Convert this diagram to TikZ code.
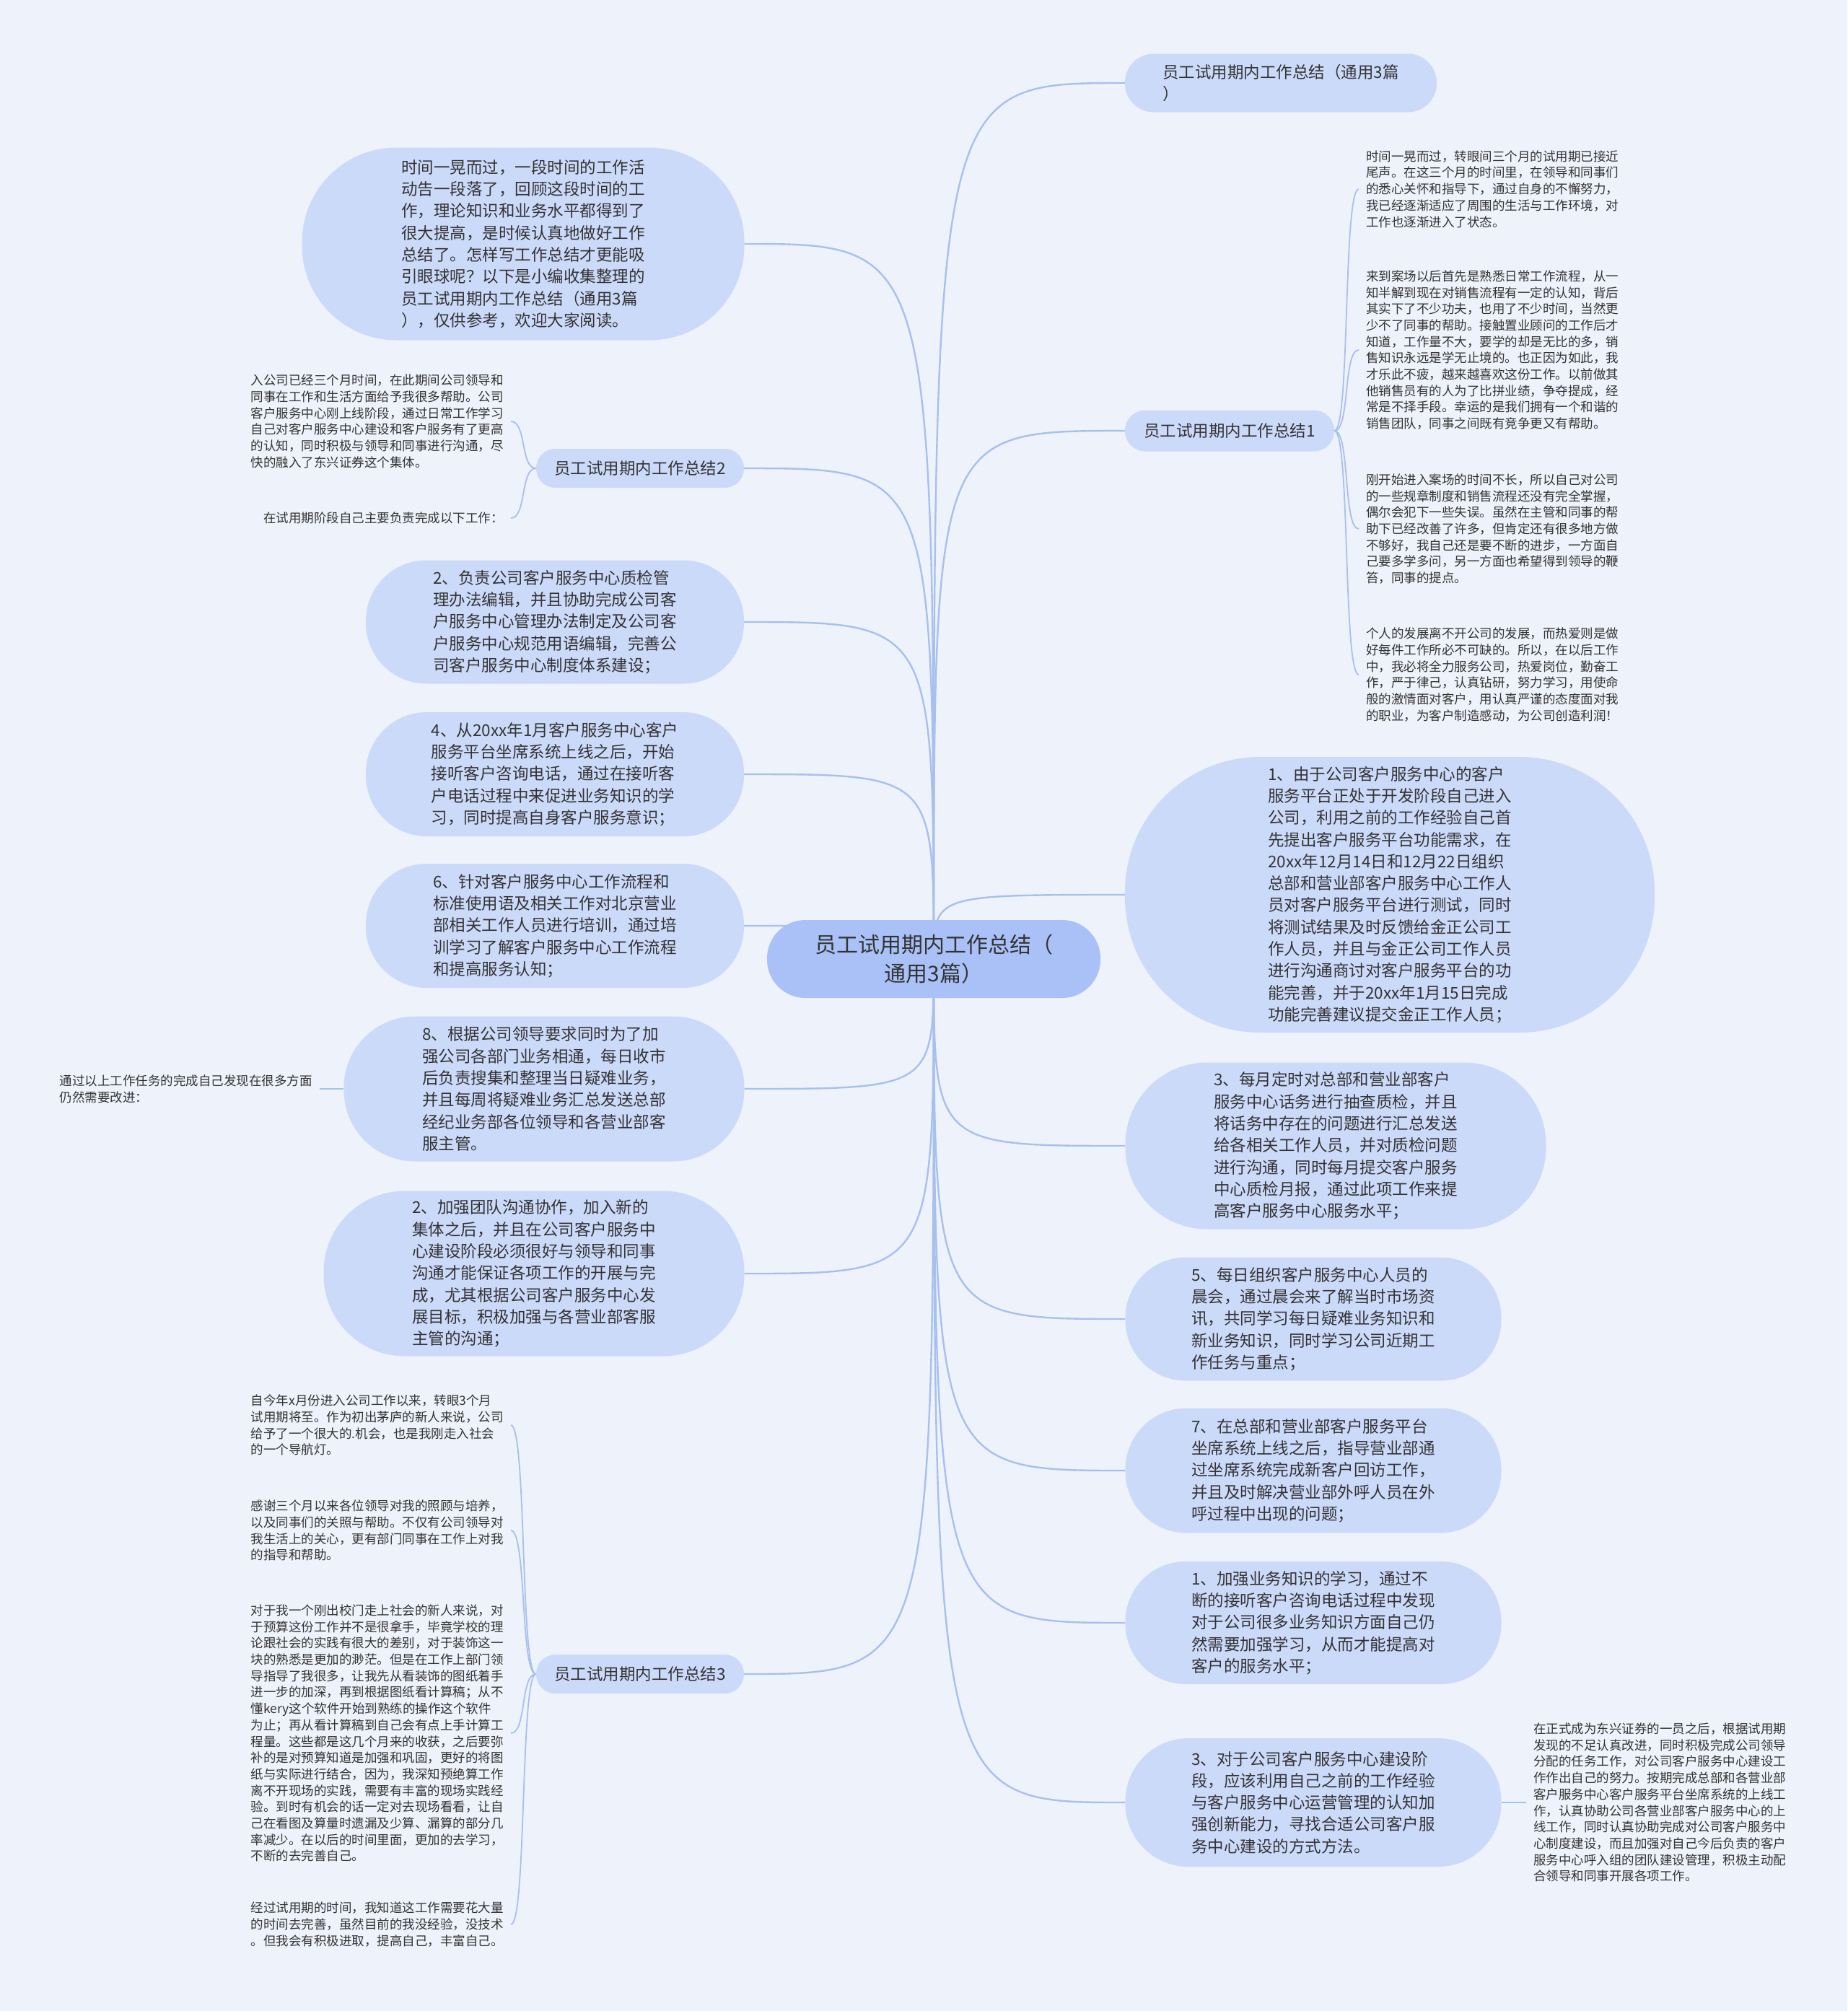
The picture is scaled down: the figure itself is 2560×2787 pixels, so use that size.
\documentclass[tikz,border=0pt]{standalone}
\usepackage{fontspec}
\setmainfont{Noto Sans CJK SC}
\usetikzlibrary{calc}
\definecolor{paperbg}{RGB}{238,242,250}
\definecolor{rootblue}{RGB}{169,193,247}
\definecolor{bubblue}{RGB}{204,218,250}
\definecolor{wireblue}{RGB}{168,192,238}
\definecolor{inkgray}{RGB}{51,51,51}
\pgfdeclarelayer{paper}
\pgfdeclarelayer{wires}
\pgfsetlayers{paper,wires,main}
\tikzset{
  pill/.style 2 args={minimum width=#1, minimum height=#2, rounded corners=0.49*#2},
  hubnode/.style={fill=rootblue, text=inkgray, inner sep=0pt, align=center, font=\fontsize{30pt}{40pt}\selectfont},
  bub/.style={fill=bubblue, text=inkgray, inner sep=0pt, align=left, font=\fontsize{22.5pt}{30.3pt}\selectfont},
  note/.style={text=inkgray, inner sep=0pt, inner xsep=10pt, align=left, font=\fontsize{17.5pt}{22.7pt}\selectfont},
  link/.style={draw=wireblue, line width=2.4pt},
  brace/.style={draw=wireblue, line width=1.8pt},
}

\begin{document}
\begin{tikzpicture}[x=1pt,y=-1pt]
\useasboundingbox (0,0) rectangle (2560,2787);
\begin{pgfonlayer}{paper}
  \fill[paperbg] (0,0) rectangle (2560,2787);
\end{pgfonlayer}

\node[hubnode, pill={462}{108}] (hub) at (1294,1329) {员工试用期内工作总结（\\通用3篇）};

% right branch
\node[bub, pill={432}{81}] (rt) at (1775,115) {员工试用期内工作总结（通用3篇\\）};
\node[bub, pill={290}{57}] (s1) at (1704,597) {员工试用期内工作总结1};
\node[note, anchor=west] (p11) at (1883,262) {时间一晃而过，转眼间三个月的试用期已接近\\尾声。在这三个月的时间里，在领导和同事们\\的悉心关怀和指导下，通过自身的不懈努力，\\我已经逐渐适应了周围的生活与工作环境，对\\工作也逐渐进入了状态。};
\node[note, anchor=west] (p12) at (1883,485) {来到案场以后首先是熟悉日常工作流程，从一\\知半解到现在对销售流程有一定的认知，背后\\其实下了不少功夫，也用了不少时间，当然更\\少不了同事的帮助。接触置业顾问的工作后才\\知道，工作量不大，要学的却是无比的多，销\\售知识永远是学无止境的。也正因为如此，我\\才乐此不疲，越来越喜欢这份工作。以前做其\\他销售员有的人为了比拼业绩，争夺提成，经\\常是不择手段。幸运的是我们拥有一个和谐的\\销售团队，同事之间既有竞争更又有帮助。};
\node[note, anchor=west] (p13) at (1883,733) {刚开始进入案场的时间不长，所以自己对公司\\的一些规章制度和销售流程还没有完全掌握，\\偶尔会犯下一些失误。虽然在主管和同事的帮\\助下已经改善了许多，但肯定还有很多地方做\\不够好，我自己还是要不断的进步，一方面自\\己要多学多问，另一方面也希望得到领导的鞭\\笞，同事的提点。};
\node[note, anchor=west] (p14) at (1883,935) {个人的发展离不开公司的发展，而热爱则是做\\好每件工作所必不可缺的。所以，在以后工作\\中，我必将全力服务公司，热爱岗位，勤奋工\\作，严于律己，认真钻研，努力学习，用使命\\般的激情面对客户，用认真严谨的态度面对我\\的职业，为客户制造感动，为公司创造利润！};
\node[bub, pill={734}{382}] (r1) at (1926,1240) {1、由于公司客户服务中心的客户\\服务平台正处于开发阶段自己进入\\公司，利用之前的工作经验自己首\\先提出客户服务平台功能需求，在\\20xx年12月14日和12月22日组织\\总部和营业部客户服务中心工作人\\员对客户服务平台进行测试，同时\\将测试结果及时反馈给金正公司工\\作人员，并且与金正公司工作人员\\进行沟通商讨对客户服务平台的功\\能完善，并于20xx年1月15日完成\\功能完善建议提交金正工作人员；};
\node[bub, pill={583}{231}] (r3) at (1851,1588) {3、每月定时对总部和营业部客户\\服务中心话务进行抽查质检，并且\\将话务中存在的问题进行汇总发送\\给各相关工作人员，并对质检问题\\进行沟通，同时每月提交客户服务\\中心质检月报，通过此项工作来提\\高客户服务中心服务水平；};
\node[bub, pill={521}{171}] (r5) at (1820,1828) {5、每日组织客户服务中心人员的\\晨会，通过晨会来了解当时市场资\\讯，共同学习每日疑难业务知识和\\新业务知识，同时学习公司近期工\\作任务与重点；};
\node[bub, pill={521}{173}] (r7) at (1820,2038) {7、在总部和营业部客户服务平台\\坐席系统上线之后，指导营业部通\\过坐席系统完成新客户回访工作，\\并且及时解决营业部外呼人员在外\\呼过程中出现的问题；};
\node[bub, pill={521}{170}] (r9) at (1820,2249) {1、加强业务知识的学习，通过不\\断的接听客户咨询电话过程中发现\\对于公司很多业务知识方面自己仍\\然需要加强学习，从而才能提高对\\客户的服务水平；};
\node[bub, pill={521}{178}] (r11) at (1820,2498) {3、对于公司客户服务中心建设阶\\段，应该利用自己之前的工作经验\\与客户服务中心运营管理的认知加\\强创新能力，寻找合适公司客户服\\务中心建设的方式方法。};
\node[note, anchor=west] (n11) at (2115,2498) {在正式成为东兴证券的一员之后，根据试用期\\发现的不足认真改进，同时积极完成公司领导\\分配的任务工作，对公司客户服务中心建设工\\作作出自己的努力。按期完成总部和各营业部\\客户服务中心客户服务平台坐席系统的上线工\\作，认真协助公司各营业部客户服务中心的上\\线工作，同时认真协助完成对公司客户服务中\\心制度建设，而且加强对自己今后负责的客户\\服务中心呼入组的团队建设管理，积极主动配\\合领导和同事开展各项工作。};

% left branch
\node[bub, pill={613}{267}] (intro) at (725,338) {时间一晃而过，一段时间的工作活\\动告一段落了，回顾这段时间的工\\作，理论知识和业务水平都得到了\\很大提高，是时候认真地做好工作\\总结了。怎样写工作总结才更能吸\\引眼球呢？以下是小编收集整理的\\员工试用期内工作总结（通用3篇\\），仅供参考，欢迎大家阅读。};
\node[bub, pill={288}{54}] (s2) at (887,649) {员工试用期内工作总结2};
\node[note, anchor=east] (p21) at (708,584) {入公司已经三个月时间，在此期间公司领导和\\同事在工作和生活方面给予我很多帮助。公司\\客户服务中心刚上线阶段，通过日常工作学习\\自己对客户服务中心建设和客户服务有了更高\\的认知，同时积极与领导和同事进行沟通，尽\\快的融入了东兴证券这个集体。};
\node[note, anchor=east] (p22) at (708,718) {在试用期阶段自己主要负责完成以下工作：};
\node[bub, pill={524}{171}] (c2) at (769,862) {2、负责公司客户服务中心质检管\\理办法编辑，并且协助完成公司客\\户服务中心管理办法制定及公司客\\户服务中心规范用语编辑，完善公\\司客户服务中心制度体系建设；};
\node[bub, pill={524}{172}] (c4) at (769,1073) {4、从20xx年1月客户服务中心客户\\服务平台坐席系统上线之后，开始\\接听客户咨询电话，通过在接听客\\户电话过程中来促进业务知识的学\\习，同时提高自身客户服务意识；};
\node[bub, pill={524}{172}] (c6) at (769,1283) {6、针对客户服务中心工作流程和\\标准使用语及相关工作对北京营业\\部相关工作人员进行培训，通过培\\训学习了解客户服务中心工作流程\\和提高服务认知；};
\node[bub, pill={555}{201}] (c8) at (754,1509) {8、根据公司领导要求同时为了加\\强公司各部门业务相通，每日收市\\后负责搜集和整理当日疑难业务，\\并且每周将疑难业务汇总发送总部\\经纪业务部各位领导和各营业部客\\服主管。};
\node[note, anchor=east] (n8) at (443,1509) {通过以上工作任务的完成自己发现在很多方面\\仍然需要改进：};
\node[bub, pill={583}{229}] (c2b) at (740,1765) {2、加强团队沟通协作，加入新的\\集体之后，并且在公司客户服务中\\心建设阶段必须很好与领导和同事\\沟通才能保证各项工作的开展与完\\成，尤其根据公司客户服务中心发\\展目标，积极加强与各营业部客服\\主管的沟通；};
\node[bub, pill={288}{54}] (s3) at (887,2320) {员工试用期内工作总结3};
\node[note, anchor=east] (q1) at (708,1975) {自今年x月份进入公司工作以来，转眼3个月\\试用期将至。作为初出茅庐的新人来说，公司\\给予了一个很大的.机会，也是我刚走入社会\\的一个导航灯。};
\node[note, anchor=east] (q2) at (708,2121) {感谢三个月以来各位领导对我的照顾与培养，\\以及同事们的关照与帮助。不仅有公司领导对\\我生活上的关心，更有部门同事在工作上对我\\的指导和帮助。};
\node[note, anchor=east] (q3) at (708,2402) {对于我一个刚出校门走上社会的新人来说，对\\于预算这份工作并不是很拿手，毕竟学校的理\\论跟社会的实践有很大的差别，对于装饰这一\\块的熟悉是更加的渺茫。但是在工作上部门领\\导指导了我很多，让我先从看装饰的图纸着手\\进一步的加深，再到根据图纸看计算稿；从不\\懂kery这个软件开始到熟练的操作这个软件\\为止；再从看计算稿到自己会有点上手计算工\\程量。这些都是这几个月来的收获，之后要弥\\补的是对预算知道是加强和巩固，更好的将图\\纸与实际进行结合，因为，我深知预绝算工作\\离不开现场的实践，需要有丰富的现场实践经\\验。到时有机会的话一定对去现场看看，让自\\己在看图及算量时遗漏及少算、漏算的部分几\\率减少。在以后的时间里面，更加的去学习，\\不断的去完善自己。};
\node[note, anchor=east] (q4) at (708,2667) {经过试用期的时间，我知道这工作需要花大量\\的时间去完善，虽然目前的我没经验，没技术\\。但我会有积极进取，提高自己，丰富自己。};

\begin{pgfonlayer}{wires}
  \foreach \n in {rt,s1,r1,r3,r5,r7,r9,r11}
    \draw[link] (hub.center) .. controls (hub.center |- \n.west) .. (\n.west);
  \foreach \n in {intro,s2,c2,c4,c6,c8,c2b,s3}
    \draw[link] (hub.center) .. controls (hub.center |- \n.east) .. (\n.east);
  \foreach \n in {p11,p12,p13,p14}
    \draw[brace] (s1.east) .. controls +(22,0) and +(-22,0) .. (\n.west);
  \foreach \n in {p21,p22}
    \draw[brace] (s2.west) .. controls +(-22,0) and +(22,0) .. (\n.east);
  \foreach \n in {q1,q2,q3,q4}
    \draw[brace] (s3.west) .. controls +(-22,0) and +(22,0) .. (\n.east);
  \draw[brace] (c8.west) -- (n8.east);
  \draw[brace] (r11.east) -- (n11.west);
\end{pgfonlayer}
\end{tikzpicture}
\end{document}
